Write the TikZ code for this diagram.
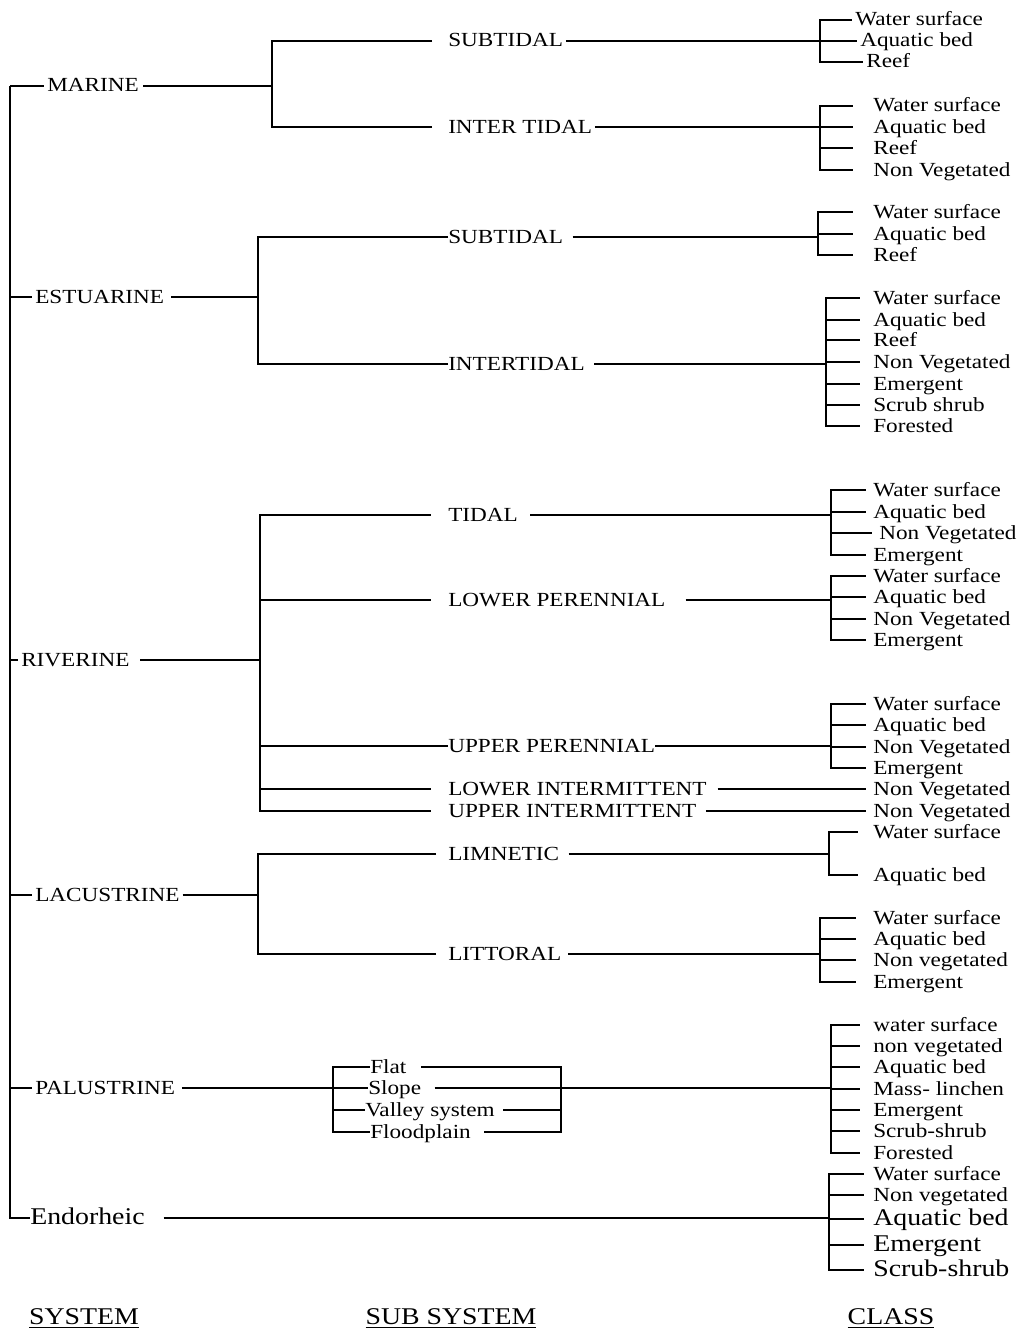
\documentclass[tikz,border=0pt]{standalone}
\usepackage{fontspec}
\setmainfont[FakeStretch=1.16]{Liberation Serif}

\begin{document}
\begin{tikzpicture}[
    x=0.75pt, y=-0.75pt,
    every node/.style={font=\fontsize{15}{18}\selectfont, inner sep=0pt, text height=11pt, text depth=2pt},
    sys/.style={anchor=west},
    sub/.style={anchor=west},
    cls/.style={anchor=west},
    norm/.style={},
    big/.style={font=\fontsize{18}{21}\selectfont, text height=13pt, text depth=3pt},
    head/.style={big, anchor=center},
    link/.style={draw, line width=1.2pt}
  ]
  \useasboundingbox (0,0) rectangle (1021,1338);

  % Systems
  \node[sys] (mar) at (47,86) {MARINE};
  \node[sys] (est) at (35,297) {ESTUARINE};
  \node[sys] (riv) at (21,660) {RIVERINE};
  \node[sys] (lac) at (35,895) {LACUSTRINE};
  \node[sys] (pal) at (35,1088) {PALUSTRINE};
  \node[sys, big] (endo) at (30,1218) {Endorheic};

  \coordinate (trunk) at (10,86);
  \draw[link] (trunk) |- (endo.west);
  \foreach \s in {mar,est,riv,lac,pal}
    \draw[link, shorten >=2pt] (trunk |- \s.west) -- (\s.west);

  % Marine
  \node[sub] (mar-st) at (448,41) {SUBTIDAL};
  \node[sub] (mar-it) at (448,127) {INTER TIDAL};
  \coordinate (mar-j) at (272,86);
  \draw[link, shorten <=3pt] (mar.east) -- (mar-j);
  \draw[link, shorten <=12pt] (mar-st.west) -| (mar-j);
  \draw[link, shorten <=12pt] (mar-it.west) -| (mar-j);

  \coordinate (mar-st-b) at (820,41);
  \draw[link, shorten <=2pt] (mar-st.east) -- (mar-st-b);
  \foreach \x/\y/\t [count=\i] in {855/20/Water surface, 860/41/Aquatic bed, 866/62/Reef}{
    \node[cls] (mar-st-\i) at (\x,\y) {\t};
    \draw[link, shorten >=2pt] (mar-st-b) |- (mar-st-\i.west);
  }
  \coordinate (mar-it-b) at (820,127);
  \draw[link, shorten <=2pt] (mar-it.east) -- (mar-it-b);
  \foreach \y/\t [count=\i] in {106/Water surface, 127/Aquatic bed, 148/Reef, 170/Non Vegetated}{
    \node[cls] (mar-it-\i) at (873,\y) {\t};
    \draw[link, shorten >=15pt] (mar-it-b) |- (mar-it-\i.west);
  }

  % Estuarine
  \node[sub] (est-st) at (448,237) {SUBTIDAL};
  \node[sub] (est-it) at (448,364) {INTERTIDAL};
  \coordinate (est-j) at (258,297);
  \draw[link, shorten <=5pt] (est.east) -- (est-j);
  \draw[link] (est-st.west) -| (est-j);
  \draw[link] (est-it.west) -| (est-j);

  \coordinate (est-st-b) at (818,237);
  \draw[link, shorten <=7pt] (est-st.east) -- (est-st-b);
  \foreach \y/\t [count=\i] in {212/Water surface, 234/Aquatic bed, 255/Reef}{
    \node[cls] (est-st-\i) at (873,\y) {\t};
    \draw[link, shorten >=15pt] (est-st-b) |- (est-st-\i.west);
  }
  \coordinate (est-it-b) at (826,364);
  \draw[link, shorten <=7pt] (est-it.east) -- (est-it-b);
  \foreach \y/\t [count=\i] in {298/Water surface, 320/Aquatic bed, 340/Reef, 362/Non Vegetated,
      384/Emergent, 405/Scrub shrub, 426/Forested}{
    \node[cls] (est-it-\i) at (873,\y) {\t};
    \draw[link, shorten >=10pt] (est-it-b) |- (est-it-\i.west);
  }

  % Riverine
  \node[sub] (riv-td) at (448,515) {TIDAL};
  \node[sub] (riv-lp) at (448,600) {LOWER PERENNIAL};
  \node[sub] (riv-up) at (448,746) {UPPER PERENNIAL};
  \node[sub] (riv-li) at (448,789) {LOWER INTERMITTENT};
  \node[sub] (riv-ui) at (448,811) {UPPER INTERMITTENT};
  \coordinate (riv-j) at (260,660);
  \draw[link, shorten <=8pt] (riv.east) -- (riv-j);
  \foreach \s in {riv-td,riv-lp,riv-li,riv-ui}
    \draw[link, shorten <=13pt] (\s.west) -| (riv-j);
  \draw[link] (riv-up.west) -| (riv-j);

  \coordinate (riv-td-b) at (831,515);
  \draw[link, shorten <=9pt] (riv-td.east) -- (riv-td-b);
  \foreach \x/\y/\t [count=\i] in {873/490/Water surface, 873/512/Aquatic bed, 879/533/Non Vegetated, 873/555/Emergent}{
    \node[cls] (riv-td-\i) at (\x,\y) {\t};
    \draw[link, shorten >=5pt] (riv-td-b) |- (riv-td-\i.west);
  }
  \coordinate (riv-lp-b) at (831,600);
  \draw[link, shorten <=15pt] (riv-lp.east) -- (riv-lp-b);
  \foreach \y/\t [count=\i] in {576/Water surface, 597/Aquatic bed, 619/Non Vegetated, 640/Emergent}{
    \node[cls] (riv-lp-\i) at (873,\y) {\t};
    \draw[link, shorten >=5pt] (riv-lp-b) |- (riv-lp-\i.west);
  }
  \coordinate (riv-up-b) at (831,746);
  \draw[link] (riv-up.east) -- (riv-up-b);
  \foreach \y/\t [count=\i] in {704/Water surface, 725/Aquatic bed, 747/Non Vegetated, 768/Emergent}{
    \node[cls] (riv-up-\i) at (873,\y) {\t};
    \draw[link, shorten >=5pt] (riv-up-b) |- (riv-up-\i.west);
  }
  \node[cls] (riv-li-1) at (873,789) {Non Vegetated};
  \node[cls] (riv-ui-1) at (873,811) {Non Vegetated};
  \draw[link, shorten <=8pt, shorten >=5pt] (riv-li.east) -- (riv-li-1.west);
  \draw[link, shorten <=7pt, shorten >=5pt] (riv-ui.east) -- (riv-ui-1.west);

  % Lacustrine
  \node[sub] (lac-lm) at (448,854) {LIMNETIC};
  \node[sub] (lac-lt) at (448,954) {LITTORAL};
  \coordinate (lac-j) at (258,895);
  \draw[link, shorten <=2pt] (lac.east) -- (lac-j);
  \draw[link, shorten <=9pt] (lac-lm.west) -| (lac-j);
  \draw[link, shorten <=9pt] (lac-lt.west) -| (lac-j);

  \coordinate (lac-lm-b) at (829,854);
  \draw[link, shorten <=7pt] (lac-lm.east) -- (lac-lm-b);
  \foreach \y/\t [count=\i] in {832/Water surface, 875/Aquatic bed}{
    \node[cls] (lac-lm-\i) at (873,\y) {\t};
    \draw[link, shorten >=11pt] (lac-lm-b) |- (lac-lm-\i.west);
  }
  \coordinate (lac-lt-b) at (820,954);
  \draw[link, shorten <=5pt] (lac-lt.east) -- (lac-lt-b);
  \foreach \y/\t [count=\i] in {918/Water surface, 939/Aquatic bed, 960/Non vegetated, 982/Emergent}{
    \node[cls] (lac-lt-\i) at (873,\y) {\t};
    \draw[link, shorten >=13pt] (lac-lt-b) |- (lac-lt-\i.west);
  }

  % Palustrine
  \node[sub] (pal-fl) at (370,1067) {Flat};
  \node[sub] (pal-sl) at (368,1088) {Slope};
  \node[sub] (pal-va) at (365,1110) {Valley system};
  \node[sub] (pal-fp) at (370,1132) {Floodplain};
  \coordinate (pal-j) at (333,1088);
  \draw[link, shorten <=5pt] (pal.east) -- (pal-j);
  \foreach \s in {pal-fl,pal-sl,pal-va,pal-fp}
    \draw[link] (pal-j) |- (\s.west);
  \coordinate (pal-k) at (561,1088);
  \coordinate (pal-b) at (831,1088);
  \draw[link, shorten <=10pt] (pal-sl.east) -- (pal-b);
  \draw[link, shorten <=11pt] (pal-fl.east) -| (pal-k);
  \draw[link, shorten <=6pt] (pal-va.east) -| (pal-k);
  \draw[link, shorten <=10pt] (pal-fp.east) -| (pal-k);
  \foreach \y/\t [count=\i] in {1025/water surface, 1046/non vegetated, 1067/Aquatic bed, 1089/Mass- linchen,
      1110/Emergent, 1131/Scrub-shrub, 1153/Forested}{
    \node[cls] (pal-c\i) at (873,\y) {\t};
    \draw[link, shorten >=10pt] (pal-b) |- (pal-c\i.west);
  }

  % Endorheic
  \coordinate (endo-b) at (829,1218);
  \draw[link, shorten <=14pt] (endo.east) -- (endo-b);
  \foreach \st/\y/\t [count=\i] in {norm/1174/Water surface, norm/1195/Non vegetated, big/1219/Aquatic bed,
      big/1245/Emergent, big/1270/Scrub-shrub}{
    \node[cls, \st] (endo-\i) at (873,\y) {\t};
    \draw[link, shorten >=7pt] (endo-b) |- (endo-\i.west);
  }

  % Headings
  \node[head] (h-sys) at (84,1318) {\underline{SYSTEM}};
  \node[head] (h-sub) at (451,1318) {\underline{SUB SYSTEM}};
  \node[head] (h-cls) at (891,1318) {\underline{CLASS}};
\end{tikzpicture}
\end{document}
